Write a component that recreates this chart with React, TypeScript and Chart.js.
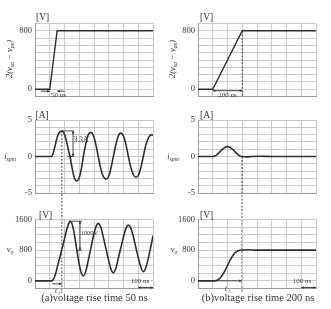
import React, { useEffect, useRef } from "react";
import { Chart, registerables } from "chart.js";
Chart.register(...registerables);

const W = 331;
const H = 309;
const SERIF = "'Liberation Serif', 'DejaVu Serif', serif";
const GRID = "#c9c9c9";
const FRAME = "#9a9a9a";
const INK = "#333333";
const CURVE = "#2e2e2e";
const YW = 24;

// time axis (ns)
const tMin = 0;
const tMax = 800;
const tStep = 100;

// (a) drive voltage, rise 50 ns
const aDriveT = [0, 100, 150, 800];
const aDriveV = [0, 0, 800, 800];
// (b) drive voltage, rise 200 ns
const bDriveT = [0, 100, 300, 800];
const bDriveV = [0, 0, 800, 800];

// (a) current
const aCurT = [0, 100, 113, 125, 140, 155, 170, 182, 195, 210, 225, 237, 250, 265, 283, 300, 315, 328, 345, 360, 377, 395, 412, 429, 445, 462, 481, 500, 515, 531, 548, 563, 581, 600, 617, 633, 650, 667, 685, 703, 719, 734, 752, 770, 791, 800];
const aCurI = [0, 0, 0, 0.6, 1.8, 2.9, 3.4, 3.5, 3.3, 2.4, 1.0, 0, -1.4, -2.8, -3.35, -2.9, -1.6, 0, 1.8, 2.9, 3.3, 2.9, 1.7, 0, -1.6, -2.7, -3.1, -2.7, -1.6, 0, 1.6, 2.7, 3.2, 2.8, 1.6, 0, -1.5, -2.5, -2.85, -2.5, -1.4, 0, 1.6, 2.6, 3.0, 2.9];
// (a) output voltage
const aOutT = aCurT;
const aOutV = [0, 0, 0, 40, 190, 420, 640, 820, 1010, 1260, 1460, 1555, 1500, 1250, 820, 430, 190, 125, 260, 510, 820, 1150, 1400, 1500, 1410, 1160, 840, 520, 310, 210, 320, 560, 850, 1150, 1370, 1455, 1370, 1150, 850, 560, 340, 240, 350, 620, 1000, 1180];

// (b) current
const bCurT = [0, 100, 120, 140, 160, 180, 200, 220, 240, 260, 280, 300, 330, 370, 420, 500, 600, 700, 800];
const bCurI = [0, 0, 0.12, 0.47, 0.88, 1.22, 1.35, 1.22, 0.88, 0.47, 0.12, 0, -0.05, 0, 0.03, 0, 0, 0, 0];
// (b) output voltage
const bOutT = [0, 100, 120, 140, 160, 180, 200, 220, 240, 260, 280, 300, 340, 400, 500, 600, 700, 800];
const bOutV = [0, 0, 5, 40, 120, 245, 400, 555, 680, 760, 795, 805, 810, 800, 800, 800, 800, 800];

// tick labels
const driveTicks = [0, 800];
const curTicks = [-5, 0, 5];
const outTicks = [0, 800, 1600];

// marker times
const aMarkT = 182;
const bMarkT = 298;
const aPeakI = 3.5;
const aPeakV = 1555;

type XY = (n: number) => number;
type Series = { t: number[]; v: number[]; smooth: boolean; width: number };
type Spec = {
  L: number; R: number; T: number; B: number;
  yMin: number; yMax: number; yStep: number; labels: number[];
  series: Series[];
  draw: (ctx: CanvasRenderingContext2D, xp: XY, yp: XY) => void;
};

function arrowHead(ctx: CanvasRenderingContext2D, x1: number, y1: number, x2: number, y2: number, s = 3) {
  const a = Math.atan2(y2 - y1, x2 - x1);
  ctx.beginPath();
  ctx.moveTo(x2, y2);
  ctx.lineTo(x2 - s * Math.cos(a - 0.45), y2 - s * Math.sin(a - 0.45));
  ctx.lineTo(x2 - s * Math.cos(a + 0.45), y2 - s * Math.sin(a + 0.45));
  ctx.closePath();
  ctx.fill();
}
function line(ctx: CanvasRenderingContext2D, x1: number, y1: number, x2: number, y2: number, dash: number[] = []) {
  ctx.save();
  ctx.setLineDash(dash);
  ctx.beginPath();
  ctx.moveTo(x1, y1);
  ctx.lineTo(x2, y2);
  ctx.stroke();
  ctx.restore();
}
function arrow(ctx: CanvasRenderingContext2D, x1: number, y1: number, x2: number, y2: number, both = false) {
  line(ctx, x1, y1, x2, y2);
  arrowHead(ctx, x1, y1, x2, y2);
  if (both) arrowHead(ctx, x2, y2, x1, y1);
}
type Part = [string, boolean];
function rich(ctx: CanvasRenderingContext2D, parts: Part[], cx: number, cy: number, size: number, rot = false, italic = true) {
  ctx.save();
  ctx.translate(cx, cy);
  if (rot) ctx.rotate(-Math.PI / 2);
  const fMain = `${italic ? "italic " : ""}${size}px ${SERIF}`;
  const fSub = `${italic ? "italic " : ""}${size * 0.68}px ${SERIF}`;
  let total = 0;
  for (const [t, sub] of parts) {
    ctx.font = sub ? fSub : fMain;
    total += ctx.measureText(t).width;
  }
  let x = -total / 2;
  ctx.textBaseline = "middle";
  ctx.textAlign = "left";
  for (const [t, sub] of parts) {
    ctx.font = sub ? fSub : fMain;
    ctx.fillText(t, x, sub ? size * 0.28 : 0);
    x += ctx.measureText(t).width;
  }
  ctx.restore();
}
function text(ctx: CanvasRenderingContext2D, s: string, x: number, y: number, size: number, align: CanvasTextAlign = "left", italic = false) {
  ctx.save();
  ctx.font = `${italic ? "italic " : ""}${size}px ${SERIF}`;
  ctx.textAlign = align;
  ctx.textBaseline = "alphabetic";
  ctx.fillText(s, x, y);
  ctx.restore();
}

const colA = { L: 35, R: 153 };
const colB = { L: 198, R: 316 };
const rowTop = { T: 23.5, B: 96.5 };
const rowMid = { T: 120, B: 193 };
const rowBot = { T: 219.5, B: 288.5 };

const driveTitle: Part[] = [["2(v", false], ["sa", true], [" \u2212 v", false], ["pe", true], [")", false]];
const curTitle: Part[] = [["i", false], ["spm", true]];
const outTitle: Part[] = [["v", false], ["o", true]];

const specs: Spec[] = [
  {
    ...colA, ...rowTop, yMin: -100, yMax: 900, yStep: 100, labels: driveTicks,
    series: [{ t: aDriveT, v: aDriveV, smooth: false, width: 1.4 }],
    draw: (ctx, xp, yp) => {
      text(ctx, "[V]", 36, 19.5, 9.5);
      rich(ctx, driveTitle, 10, 59, 8.5, true);
      arrow(ctx, xp(40), yp(0) + 2, xp(100), yp(0) + 2);
      arrow(ctx, xp(200), yp(0) + 2, xp(150), yp(0) + 2);
      text(ctx, "50 ns", 58.5, yp(0) + 7.5, 7, "center");
    },
  },
  {
    ...colB, ...rowTop, yMin: -100, yMax: 900, yStep: 100, labels: driveTicks,
    series: [{ t: bDriveT, v: bDriveV, smooth: false, width: 1.4 }],
    draw: (ctx, xp, yp) => {
      text(ctx, "[V]", 200, 19.5, 9.5);
      rich(ctx, driveTitle, 173, 59, 8.5, true);
      line(ctx, xp(300), yp(800), xp(300), 97, [2, 1.5]);
      arrow(ctx, xp(100), yp(0) + 1.5, xp(300), yp(0) + 1.5, true);
      text(ctx, "200 ns", xp(200), yp(0) + 7.5, 7, "center");
    },
  },
  {
    ...colA, ...rowMid, yMin: -5, yMax: 5, yStep: 1, labels: curTicks,
    series: [{ t: aCurT, v: aCurI, smooth: true, width: 1.6 }],
    draw: (ctx, xp, yp) => {
      text(ctx, "[A]", 35.5, 117.5, 9.5);
      rich(ctx, curTitle, 10, 157, 8.5);
      line(ctx, xp(aMarkT), yp(aPeakI), xp(aMarkT), 293, [2, 1.5]);
      line(ctx, xp(aMarkT), yp(aPeakI), xp(265), yp(aPeakI));
      line(ctx, xp(220), yp(0), xp(262), yp(0));
      arrow(ctx, xp(258), yp(aPeakI), xp(258), yp(0), true);
      text(ctx, "3.3A", xp(262), 142, 7.5);
    },
  },
  {
    ...colB, ...rowMid, yMin: -5, yMax: 5, yStep: 1, labels: curTicks,
    series: [{ t: bCurT, v: bCurI, smooth: true, width: 1.6 }],
    draw: (ctx, xp, yp) => {
      text(ctx, "[A]", 200, 117.5, 9.5);
      rich(ctx, curTitle, 173, 157, 8.5);
      line(ctx, xp(bMarkT), yp(0), xp(bMarkT), 293, [2, 1.5]);
    },
  },
  {
    ...colA, ...rowBot, yMin: -200, yMax: 1600, yStep: 200, labels: outTicks,
    series: [{ t: aOutT, v: aOutV, smooth: true, width: 1.6 }],
    draw: (ctx, xp, yp) => {
      text(ctx, "[V]", 39, 217.5, 9.5);
      rich(ctx, outTitle, 10, 250, 8.5);
      line(ctx, xp(230), yp(aPeakV), xp(318), yp(aPeakV));
      line(ctx, xp(285), yp(800), xp(318), yp(800));
      arrow(ctx, xp(305), yp(aPeakV), xp(305), yp(800), true);
      text(ctx, "1000V", xp(308), 235, 6.5);
      arrow(ctx, xp(115), yp(0) + 3, xp(aMarkT), yp(0) + 3);
      text(ctx, "t", 56, 293, 7.5, "center", true);
      text(ctx, "1", 59, 295, 5, "center", true);
      text(ctx, "100 ns", xp(712), 283, 7, "center");
      arrow(ctx, xp(700), 287.5, xp(800), 287.5, true);
      text(ctx, "(a)voltage rise time 50 ns", 94.5, 301, 10.5, "center");
    },
  },
  {
    ...colB, ...rowBot, yMin: -200, yMax: 1600, yStep: 200, labels: outTicks,
    series: [{ t: bOutT, v: bOutV, smooth: true, width: 1.6 }],
    draw: (ctx, xp, yp) => {
      text(ctx, "[V]", 200, 217.5, 9.5);
      rich(ctx, outTitle, 174, 250, 8.5);
      arrow(ctx, xp(120), yp(0), xp(bMarkT), yp(0));
      text(ctx, "t", 226, 291, 7.5, "center", true);
      text(ctx, "1", 229, 293, 5, "center", true);
      text(ctx, "100 ns", xp(705), 283, 7, "center");
      arrow(ctx, xp(700), 287.5, xp(800), 287.5, true);
      text(ctx, "(b)voltage rise time 200 ns", 258, 301, 10.5, "center");
    },
  },
];

function Panel({ spec }: { spec: Spec }) {
  const ref = useRef<HTMLCanvasElement | null>(null);
  useEffect(() => {
    const canvas = ref.current;
    if (!canvas) return;
    const annot = {
      id: "annot",
      afterDraw(chart: any) {
        const ctx: CanvasRenderingContext2D = chart.ctx;
        ctx.save();
        ctx.fillStyle = INK;
        ctx.strokeStyle = INK;
        ctx.lineWidth = 0.9;
        const xs = chart.scales.x;
        const ys = chart.scales.y;
        spec.draw(ctx, (t) => xs.getPixelForValue(t), (v) => ys.getPixelForValue(v));
        ctx.restore();
      },
    };
    const chart = new Chart(canvas, {
      type: "line",
      data: {
        datasets: spec.series.map((s) => ({
          data: s.t.map((t, i) => ({ x: t, y: s.v[i] })),
          borderColor: CURVE,
          borderWidth: s.width,
          pointRadius: 0,
          fill: false,
          tension: s.smooth ? 0.4 : 0,
          cubicInterpolationMode: s.smooth ? "monotone" : "default",
        })),
      },
      options: {
        animation: false,
        responsive: false,
        devicePixelRatio: 1,
        events: [],
        layout: { padding: { left: spec.L - YW, right: W - spec.R, top: spec.T, bottom: H - spec.B } },
        plugins: { legend: { display: false }, tooltip: { enabled: false }, title: { display: false } },
        scales: {
          x: {
            type: "linear",
            min: tMin,
            max: tMax,
            afterFit: (s: any) => { s.height = 0; },
            ticks: { display: false, stepSize: tStep },
            grid: { color: GRID, drawTicks: false, lineWidth: 1 },
            border: { display: true, color: FRAME, width: 1 },
          },
          y: {
            type: "linear",
            min: spec.yMin,
            max: spec.yMax,
            afterFit: (s: any) => { s.width = YW; },
            ticks: {
              stepSize: spec.yStep,
              autoSkip: false,
              padding: 3,
              color: INK,
              font: { family: SERIF, size: 8.5 },
              callback: (v: any) => (spec.labels.includes(Number(v)) ? String(v) : ""),
            },
            grid: { color: GRID, drawTicks: false, lineWidth: 1 },
            border: { display: true, color: FRAME, width: 1 },
          },
        },
      } as any,
      plugins: [annot],
    });
    return () => chart.destroy();
  }, [spec]);
  return (
    <canvas
      ref={ref}
      width={W}
      height={H}
      style={{ position: "absolute", left: 0, top: 0, width: W, height: H }}
    />
  );
}

export default function App() {
  return (
    <div style={{ position: "absolute", left: 0, top: 0, width: W, height: H, background: "#fff", overflow: "hidden" }}>
      {specs.map((s, i) => (
        <Panel key={i} spec={s} />
      ))}
    </div>
  );
}
